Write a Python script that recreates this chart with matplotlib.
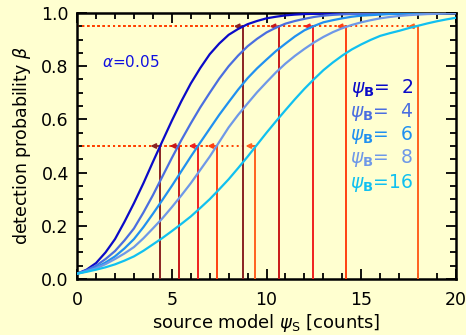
import numpy as np
import matplotlib.pyplot as plt
from matplotlib.ticker import MultipleLocator

# source counts grid (step 0.5) and detection probability curves
psi_s = [i * 0.5 for i in range(41)]
beta_b2 = [0.02, 0.035, 0.06, 0.10, 0.15, 0.215, 0.285, 0.36, 0.44, 0.518, 0.595,
           0.668, 0.735, 0.793, 0.845, 0.885, 0.918, 0.94, 0.958, 0.970, 0.98,
           0.986, 0.991, 0.994, 0.996, 0.997, 0.998, 0.998, 0.999, 0.999, 1.0,
           1.0, 1.0, 1.0, 1.0, 1.0, 1.0, 1.0, 1.0, 1.0, 1.0]
beta_b4 = [0.02, 0.033, 0.05, 0.075, 0.105, 0.145, 0.19, 0.25, 0.315, 0.385, 0.455,
           0.522, 0.585, 0.645, 0.70, 0.753, 0.80, 0.84, 0.875, 0.903, 0.927,
           0.945, 0.96, 0.97, 0.978, 0.985, 0.99, 0.993, 0.995, 0.996, 0.997,
           0.998, 0.999, 0.999, 0.999, 1.0, 1.0, 1.0, 1.0, 1.0, 1.0]
beta_b6 = [0.02, 0.03, 0.043, 0.062, 0.085, 0.115, 0.15, 0.195, 0.245, 0.297, 0.35,
           0.405, 0.46, 0.513, 0.565, 0.617, 0.665, 0.712, 0.755, 0.792, 0.825,
           0.857, 0.885, 0.912, 0.935, 0.951, 0.965, 0.973, 0.98, 0.986, 0.99,
           0.992, 0.994, 0.996, 0.997, 0.998, 0.998, 0.999, 0.999, 1.0, 1.0]
beta_b8 = [0.02, 0.029, 0.04, 0.056, 0.075, 0.096, 0.12, 0.153, 0.19, 0.228, 0.27,
           0.314, 0.36, 0.41, 0.46, 0.515, 0.57, 0.617, 0.66, 0.702, 0.74,
           0.777, 0.81, 0.839, 0.865, 0.889, 0.91, 0.928, 0.943, 0.955, 0.965,
           0.973, 0.98, 0.985, 0.989, 0.992, 0.994, 0.996, 0.997, 0.998, 0.999]
beta_b16 = [0.02, 0.027, 0.035, 0.044, 0.055, 0.069, 0.085, 0.106, 0.13, 0.154, 0.18,
            0.207, 0.235, 0.267, 0.30, 0.337, 0.375, 0.417, 0.46, 0.505, 0.55,
            0.593, 0.635, 0.676, 0.715, 0.751, 0.785, 0.814, 0.84, 0.863, 0.882,
            0.899, 0.914, 0.924, 0.933, 0.943, 0.952, 0.961, 0.969, 0.976, 0.982]

psi_b = [2, 4, 6, 8, 16]
curves = [beta_b2, beta_b4, beta_b6, beta_b8, beta_b16]
curve_colors = ['#0a0ac8', '#4a6ee0', '#2090f0', '#6e98e8', '#10c0f0']

# psi_S where beta reaches 0.5 and 0.95
levels = [0.5, 0.95]
psi_50 = [4.37, 5.39, 6.39, 7.38, 9.39]
psi_95 = [8.77, 10.66, 12.47, 14.2, 17.97]
vline_colors = ['#8a2222', '#c81818', '#f02020', '#ff4010', '#ff6020']

bg = '#ffffd0'
fig = plt.figure(figsize=(4.66, 3.35), dpi=100, facecolor=bg)
ax = fig.add_axes([0.1655, 0.1672, 0.813, 0.794], facecolor=bg)

for lev, xs in zip(levels, [psi_50, psi_95]):
    for x in xs:
        ax.plot([0, x], [lev, lev], ls=':', color='#ff4000', lw=1.4, zorder=2)
for lev, xs in zip(levels, [psi_50, psi_95]):
    for x, c in zip(xs, vline_colors):
        ax.plot([x, x], [0, lev], color=c, lw=1.4, zorder=3)
        ax.annotate('', xy=(x - 0.5, lev), xytext=(x, lev),
                    arrowprops=dict(arrowstyle='-|>', color=c, lw=1.3,
                                    mutation_scale=7, shrinkA=0, shrinkB=0),
                    zorder=4)

for b, c in zip(curves, curve_colors):
    ax.plot(psi_s, b, color=c, lw=1.6, zorder=5)

ax.text(1.3, 0.815, r'$\alpha$=0.05', color='#1010e0', fontsize=11,
        va='center', ha='left')

leg_y = [0.718, 0.628, 0.541, 0.455, 0.361]
for pb, c, yy in zip(psi_b, curve_colors, leg_y):
    num = str(pb) if pb >= 10 else '\u2007' + str(pb)
    ax.text(17.75, yy, r'$\psi_{\mathbf{B}}$' + '=' + num,
            color=c, fontsize=13.5, ha='right', va='center')

ax.set_xlim(0, 20)
ax.set_ylim(0, 1)
ax.xaxis.set_major_locator(MultipleLocator(5))
ax.xaxis.set_minor_locator(MultipleLocator(1))
ax.yaxis.set_minor_locator(MultipleLocator(0.05))
ax.set_yticks([0, 0.2, 0.4, 0.6, 0.8, 1.0])
ax.set_yticklabels(['0.0', '0.2', '0.4', '0.6', '0.8', '1.0'])
ax.tick_params(which='both', direction='in', top=True, right=True, width=1.3,
               labelsize=12.5, colors='black')
ax.tick_params(which='major', length=7)
ax.tick_params(axis='x', which='major', pad=9)
ax.tick_params(axis='y', which='major', pad=6)
ax.tick_params(which='minor', length=4)
for s in ax.spines.values():
    s.set_linewidth(1.8)

ax.set_xlabel(r'source model $\psi_{\rm S}$ [counts]', fontsize=13, labelpad=2)
ax.set_ylabel(r'detection probability $\beta$', fontsize=12.5, labelpad=6)

fig.savefig('out.png', dpi=100, facecolor=bg)
